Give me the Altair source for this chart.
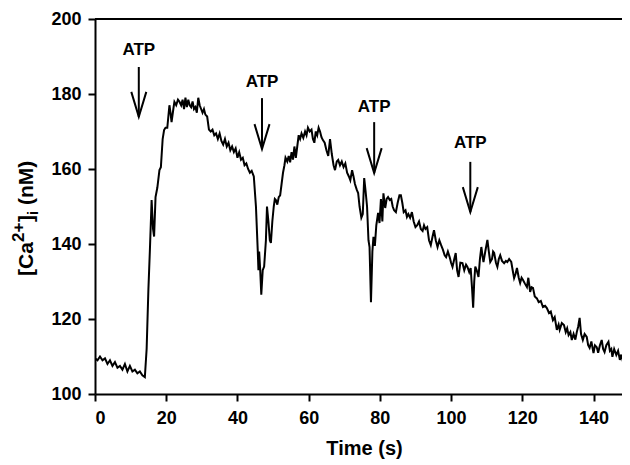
import altair as alt
import pandas as pd

# ---- trace: time (s) and [Ca2+]i (nM) ----
time_s = [
    0, 0.7, 1.4, 2.1, 2.8, 3.5, 4.2, 4.9, 5.6, 6.3, 7, 7.7, 8.4, 9.1, 9.8, 10.5, 11.2, 11.9, 12.6, 13.3, 14,
    14.5, 15, 15.4, 15.9, 16.3, 16.6, 17, 17.5, 18.1, 18.5, 19, 19.4, 19.8, 20.3, 20.9, 21.2, 21.5, 22, 22.3,
    22.8, 23.3, 23.7, 24.2, 24.6, 25, 25.4, 25.8, 26.2, 26.6, 27, 27.4, 27.8, 28.2, 28.6, 29, 29.4, 29.8,
    30.2, 30.6, 31, 31.5, 32, 32.5, 33, 33.5, 34, 34.5, 35, 35.5, 36, 36.5, 37, 37.5, 38, 38.5, 39, 39.5,
    40, 40.5, 41, 41.5, 42, 42.5, 43, 43.5, 44, 44.6, 45.2, 45.7, 45.9, 46.1, 46.4, 46.7, 47.1, 47.5, 48,
    48.3, 48.7, 49.1, 49.4, 49.8, 50.2, 50.5, 50.8, 51.2, 51.6, 52, 52.4, 52.8, 53.2, 53.5, 54, 54.4, 54.8,
    55.2, 55.6, 56, 56.4, 56.8, 57.2, 57.6, 58, 58.5, 59, 59.4, 59.8, 60.3, 60.8, 61.2, 61.6, 62, 62.4,
    62.8, 63.2, 63.6, 64, 64.5, 65, 65.5, 66, 66.5, 67, 67.4, 67.9, 68.3, 68.8, 69.3, 69.8, 70.3, 70.8,
    71.3, 71.7, 72.2, 72.6, 73, 73.5, 73.9, 74.3, 74.8, 75.2, 75.6, 76, 76.4, 76.8, 77.1, 77.5, 77.9,
    78.2, 78.6, 79, 79.5, 79.9, 80.3, 80.7, 81, 81.5, 81.9, 82.3, 82.8, 83.2, 83.6, 84, 84.5, 85, 85.5,
    85.9, 86.3, 86.7, 87.2, 87.6, 88, 88.5, 89, 89.5, 90, 90.5, 91, 91.5, 92, 92.4, 92.8, 93.3, 93.8,
    94.3, 94.8, 95.2, 95.7, 96.2, 96.7, 97.2, 97.7, 98.2, 98.6, 99.1, 99.6, 100, 100.4, 100.9, 101.3,
    101.7, 102.1, 102.6, 103.2, 103.7, 104.2, 104.6, 105.1, 105.5, 105.9, 106.2, 106.5, 106.8, 107.2,
    107.7, 108.1, 108.5, 108.8, 109.1, 109.6, 110.2, 110.6, 111, 111.5, 111.8, 112.1, 112.6, 113, 113.4,
    113.8, 114.3, 114.9, 115.4, 115.8, 116.3, 116.9, 117.3, 117.7, 118.1, 118.5, 119, 119.4, 119.8,
    120.2, 120.7, 121.3, 121.7, 122.2, 122.6, 123, 123.5, 124.1, 124.6, 125.2, 125.8, 126.4, 126.9,
    127.5, 128, 128.6, 129.1, 129.7, 130.2, 130.5, 131.1, 131.7, 132.2, 132.6, 133, 133.5, 133.9, 134.4,
    134.9, 135.3, 135.7, 136.1, 136.5, 137, 137.5, 138.1, 138.5, 138.9, 139.4, 140, 140.4, 140.9, 141.3,
    141.8, 142.3, 142.7, 143.1, 143.6, 144.2, 144.6, 145, 145.3, 145.8, 146.4, 146.9, 147.4, 147.8,
    148.3, 148.7, 149.2, 149.6,
]
ca_nM = [
    109.5, 109, 110, 109, 109.5, 108, 109, 107.5, 108.5, 107, 107.5, 106.5, 108, 106, 107.5, 106, 106.5, 105.5, 106, 105, 104.5,
    112, 128, 138, 151.7, 144, 142, 152.5, 155, 159.7, 160.5, 168, 170.4, 171, 171, 177, 175, 172.5, 176, 177.9,
    177, 178.5, 178, 177, 178.5, 176, 179, 176.5, 178.5, 177, 176.5, 178, 176, 176.5, 175, 179, 177, 176,
    175, 176, 174.5, 174, 170.5, 170, 170.5, 169, 169.5, 168, 169.5, 167.5, 166.5, 168, 166, 167, 165, 166, 164.5, 165.5,
    163, 164.5, 162.5, 163, 161, 161.5, 160, 159, 159.5, 158, 150, 138.4, 133, 138, 133, 126.5, 133, 134, 141,
    150, 146, 141, 140.3, 146, 150, 152, 151.7, 150.5, 152.5, 153, 156, 159, 161, 163, 162, 163.5, 161.8,
    164.5, 162.5, 166, 163, 166, 169, 168, 169.5, 168.3, 170, 169, 171, 170, 170.5, 168, 167, 170, 169,
    171, 170, 168.5, 167.7, 167, 165, 163.5, 168, 164, 161, 159.7, 162, 162.4, 161, 162, 160.5, 161.5, 159,
    158, 157, 159.7, 158, 156, 154.5, 153.6, 150, 147, 148, 157.6, 154, 150, 141, 139.2, 124.5, 138,
    141.9, 139.5, 145, 148.3, 145.6, 152, 146, 153.5, 149.6, 152, 152.5, 151.7, 152, 150, 149, 148.5, 151, 153,
    153, 151, 148.5, 149, 147.2, 148, 147, 148.5, 146, 144.5, 145, 146, 144, 143.5, 145, 144, 144.5, 141,
    139.7, 142, 143.7, 141, 139.2, 141, 139.7, 138.5, 137, 136.5, 138, 136.5, 135, 133.9, 136, 137.6,
    133, 131.2, 135, 134.9, 133, 134.5, 133.9, 132.5, 133.6, 128, 123, 130, 134, 133,
    131.2, 136, 139.2, 137, 135.2, 138, 141.1, 138, 135.2, 136, 138, 137.6, 135, 133.9, 136,
    137, 135.5, 134.9, 135.5, 135.2, 136, 135.2, 133, 130.9, 132, 133.6, 131, 129.6, 131,
    130.4, 129.5, 128.5, 131, 127.2, 128.5, 128.3, 126, 125.5, 124.5, 124.8, 123.2, 123.5, 122.9,
    121.6, 122, 119.7, 120.5, 117.1, 118.5, 117.1, 118.9, 118.4, 116.5, 117.5, 115.7, 116.5, 114.4, 116,
    114.5, 116.5, 118, 120.3, 116, 114.4, 116, 115.2, 113, 112.3, 114, 110.9, 113, 112.5, 111,
    113, 114.4, 112, 111.2, 113, 113.9, 111.5, 112, 109.9, 112, 110.4, 111.5, 109.1, 110.5,
    108.5, 109.5, 108.3, 108,
]

# ---- ATP annotations ----
atp_label = ["ATP", "ATP", "ATP", "ATP"]
atp_t = [12.3, 46.9, 78.4, 105.4]
atp_text_y = [191.7, 183.2, 176.5, 166.9]
atp_arrow_top = [187.2, 178.9, 172.5, 161.9]
atp_arrow_tip = [173.9, 165.3, 158.9, 148.5]

x_ticks = [0, 20, 40, 60, 80, 100, 120, 140]
y_ticks = [100, 120, 140, 160, 180, 200]
x_domain = [0, 148]
y_domain = [100, 200]

# y-axis title pieces: "[Ca" + superscript "2+" + "]" + subscript "i" + " (nM)"
ytitle_parts = ["[Ca", "2+", "]", "i", "(nM)"]

FONT = "Liberation Sans"
W, H = 527, 375

trace = pd.DataFrame({"t": time_s, "ca": ca_nM})
atp = pd.DataFrame({"t": atp_t, "label": atp_label, "ty": atp_text_y,
                    "top": atp_arrow_top, "tip": atp_arrow_tip})
one = pd.DataFrame({"k": [0]})

xscale = alt.Scale(domain=x_domain, nice=False, zero=False)
yscale = alt.Scale(domain=y_domain, nice=False, zero=False)

x_axis = alt.Axis(values=x_ticks, title="Time (s)", titleX=269, titlePadding=11,
                  labelPadding=8, format="d")
y_axis = alt.Axis(values=y_ticks, title=None, labelPadding=7, format="d")

line = alt.Chart(trace).mark_line(color="black", strokeWidth=2, clip=True).encode(
    x=alt.X("t:Q", scale=xscale, axis=x_axis),
    y=alt.Y("ca:Q", scale=yscale, axis=y_axis),
)

top_border = alt.Chart(one).mark_rule(color="black", strokeWidth=2).encode(
    y=alt.value(0), x=alt.value(0), x2=alt.value(W)
)

shafts = alt.Chart(atp).mark_rule(color="black", strokeWidth=2).encode(
    x=alt.X("t:Q", scale=xscale),
    y=alt.Y("top:Q", scale=yscale),
    y2="tip:Q",
)

heads = alt.Chart(atp).mark_point(
    shape="M-0.3,-1L0,0L0.3,-1", size=2500, filled=False,
    color="black", strokeWidth=2, opacity=1,
).encode(
    x=alt.X("t:Q", scale=xscale),
    y=alt.Y("tip:Q", scale=yscale),
)

labels = alt.Chart(atp).mark_text(
    font=FONT, fontSize=17, fontWeight="bold", color="black",
    align="center", baseline="middle",
).encode(
    x=alt.X("t:Q", scale=xscale),
    y=alt.Y("ty:Q", scale=yscale),
    text="label:N",
)

# rotated y-axis title, built piece by piece (pixel positions relative to plot area)
title_layout = [  # (x baseline, y start, font size)
    (-62, 257, 21),
    (-71, 223, 17),
    (-62, 203, 21),
    (-57, 196, 15),
    (-62, 186, 21),
]
title_layers = []
for part, (px, py, fs) in zip(ytitle_parts, title_layout):
    title_layers.append(
        alt.Chart(one).mark_text(
            font=FONT, fontSize=fs, fontWeight="bold", color="black",
            angle=270, align="left", baseline="alphabetic",
        ).encode(x=alt.value(px), y=alt.value(py), text=alt.value(part))
    )

chart = alt.layer(line, top_border, shafts, heads, labels, *title_layers).properties(
    width=W, height=H,
    autosize=alt.AutoSizeParams(type="none"),
    padding={"left": 87, "top": 11, "right": 0, "bottom": 71},
    background="white",
).configure_view(stroke=None).configure_axis(
    grid=False,
    domainColor="black", domainWidth=2,
    tickColor="black", tickWidth=2, tickSize=7,
    labelFont=FONT, labelFontSize=18, labelFontWeight="bold", labelColor="black",
    titleFont=FONT, titleFontSize=20, titleFontWeight="bold", titleColor="black",
)

chart.save("out.html", embed_options={"renderer": "svg", "actions": False})
